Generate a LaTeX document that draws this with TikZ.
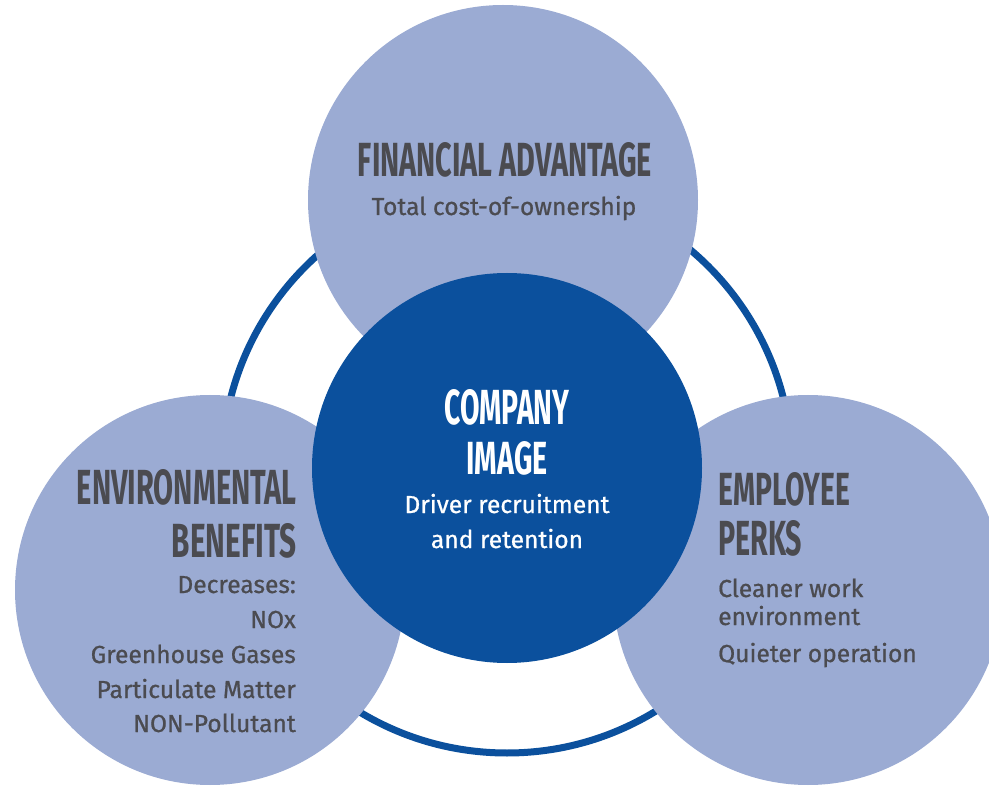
\documentclass[tikz,border=0pt]{standalone}
\usepackage{fontspec}
\setmainfont{Fira Sans}
\newfontfamily\bodyf{Fira Sans}[FakeBold=0.8]
\usepackage{graphicx}
\definecolor{lightc}{HTML}{9BABD3}
\definecolor{darkc}{HTML}{0B509D}
\definecolor{txtc}{HTML}{4B4B50}
\newcommand{\hdtext}[3]{\resizebox{#1pt}{#2pt}{\bfseries #3}}
\begin{document}
\begin{tikzpicture}[x=1pt,y=-1pt,
  bubble/.style={circle, fill=lightc, inner sep=0pt, minimum size=390pt},
  core/.style={circle, fill=darkc, inner sep=0pt, minimum size=390pt},
  ringstyle/.style={circle, draw=darkc, line width=7pt, inner sep=0pt, minimum size=570pt},
  body/.style={font=\bodyf\fontsize{24.6}{28}\selectfont, text=txtc, inner sep=0pt},
  head/.style={text=txtc, inner sep=0pt},
  whitebody/.style={body, text=white},
  whitehead/.style={head, text=white}]
\useasboundingbox (0,0) rectangle (989,786);
\clip (0,0) rectangle (989,786);
\node[ringstyle] (ring) at (507,468) {};
\node[bubble] (fin) at (503,200) {};
\node[bubble] (env) at (210,590) {};
\node[bubble] (emp) at (808,590) {};
\node[core] (img) at (507,468) {};
% top
\node[head, anchor=base] (finh) at (505,177) {\hdtext{294}{34}{FINANCIAL ADVANTAGE}};
\node[body, anchor=base] (fint) at (504,215) {Total cost-of-ownership};
% left
\node[head, anchor=base east] (envh1) at (297,505) {\hdtext{220}{35}{ENVIRONMENTAL}};
\node[head, anchor=base east] (envh2) at (297,557) {\hdtext{125}{34}{BENEFITS}};
\node[body, anchor=base east] (envt1) at (296,593) {Decreases:};
\node[body, anchor=base east] (envt2) at (296,628) {NOx};
\node[body, anchor=base east] (envt3) at (296,663) {Greenhouse Gases};
\node[body, anchor=base east] (envt4) at (296,698) {Particulate Matter};
\node[body, anchor=base east] (envt5) at (296,732) {NON-Pollutant};
% right
\node[head, anchor=base west] (emph1) at (718,505) {\hdtext{132}{33}{EMPLOYEE}};
\node[head, anchor=base west] (emph2) at (718,555) {\hdtext{84}{35}{PERKS}};
\node[body, anchor=base west] (empt1) at (718,597) {Cleaner work};
\node[body, anchor=base west] (empt2) at (718,625) {environment};
\node[body, anchor=base west] (empt3) at (718,662) {Quieter operation};
% center
\node[whitehead, anchor=base] (imgh1) at (507,425) {\hdtext{125}{35}{COMPANY}};
\node[whitehead, anchor=base] (imgh2) at (507,475) {\hdtext{81}{33}{IMAGE}};
\node[whitebody, anchor=base] (imgt1) at (507,513) {Driver recruitment};
\node[whitebody, anchor=base] (imgt2) at (507,548) {and retention};
\end{tikzpicture}
\end{document}
